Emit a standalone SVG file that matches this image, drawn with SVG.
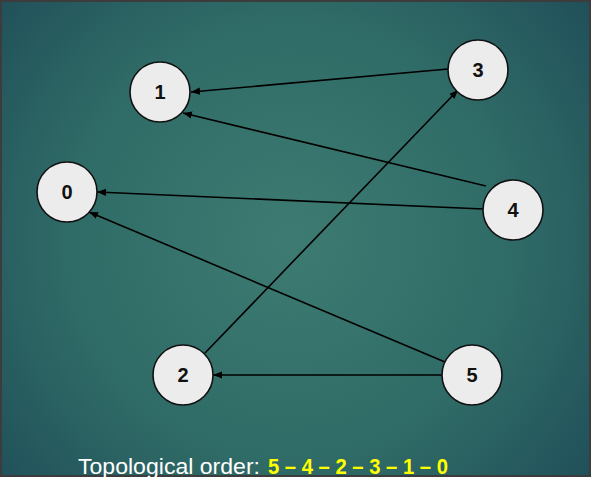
<svg xmlns="http://www.w3.org/2000/svg" width="591" height="477" viewBox="0 0 591 477">
  <defs>
    <radialGradient id="bg" cx="290" cy="240" r="430" gradientUnits="userSpaceOnUse">
      <stop offset="0" stop-color="#3d7b72"/>
      <stop offset="0.5" stop-color="#306c67"/>
      <stop offset="1" stop-color="#1c4856"/>
    </radialGradient>
    <marker id="arr" viewBox="0 0 10 10" refX="10" refY="5" markerWidth="9" markerHeight="9" markerUnits="userSpaceOnUse" orient="auto">
      <path d="M0,1 L10,5 L0,9 Z" fill="#000"/>
    </marker>
  </defs>
  <style>
    .node circle { fill: #ececec; stroke: #111; stroke-width: 1.6; }
    .node text { font-family: "Liberation Sans", Arial, sans-serif; font-weight: bold; font-size: 20px; fill: #111; text-anchor: middle; }
    .edge { stroke: #000; stroke-width: 1.6; fill: none; marker-end: url(#arr); }
    .caption { font-family: "Liberation Sans", Arial, sans-serif; font-size: 22px; }
  </style>
  <rect x="0" y="0" width="591" height="477" fill="#3c3c3c"/>
  <rect x="2" y="2" width="587" height="473" fill="url(#bg)"/>
  <g id="connectors">
    <line class="edge" x1="448" y1="69" x2="191" y2="92"/>
    <line class="edge" x1="486" y1="186" x2="183" y2="113"/>
    <line class="edge" x1="483" y1="209" x2="97" y2="192"/>
    <line class="edge" x1="445" y1="362" x2="89" y2="212"/>
    <line class="edge" x1="442" y1="375" x2="213" y2="375"/>
    <line class="edge" x1="205" y1="353" x2="458" y2="90"/>
  </g>
  <g id="node-1" class="node"><circle cx="160" cy="92" r="30"/><text x="160" y="99">1</text></g>
  <g id="node-3" class="node"><circle cx="478" cy="70" r="30"/><text x="478" y="77">3</text></g>
  <g id="node-0" class="node"><circle cx="67" cy="192" r="30"/><text x="67" y="199">0</text></g>
  <g id="node-4" class="node"><circle cx="513" cy="210" r="30"/><text x="513" y="217">4</text></g>
  <g id="node-2" class="node"><circle cx="183" cy="375" r="30"/><text x="183" y="382">2</text></g>
  <g id="node-5" class="node"><circle cx="472" cy="375" r="30"/><text x="472" y="382">5</text></g>
  <text class="caption" x="78" y="474" fill="#ffffff" textLength="182" lengthAdjust="spacingAndGlyphs">Topological order:</text>
  <text class="caption" x="268" y="474" fill="#ffff00" font-weight="bold" textLength="180" lengthAdjust="spacingAndGlyphs">5 – 4 – 2 – 3 – 1 – 0</text>
</svg>
